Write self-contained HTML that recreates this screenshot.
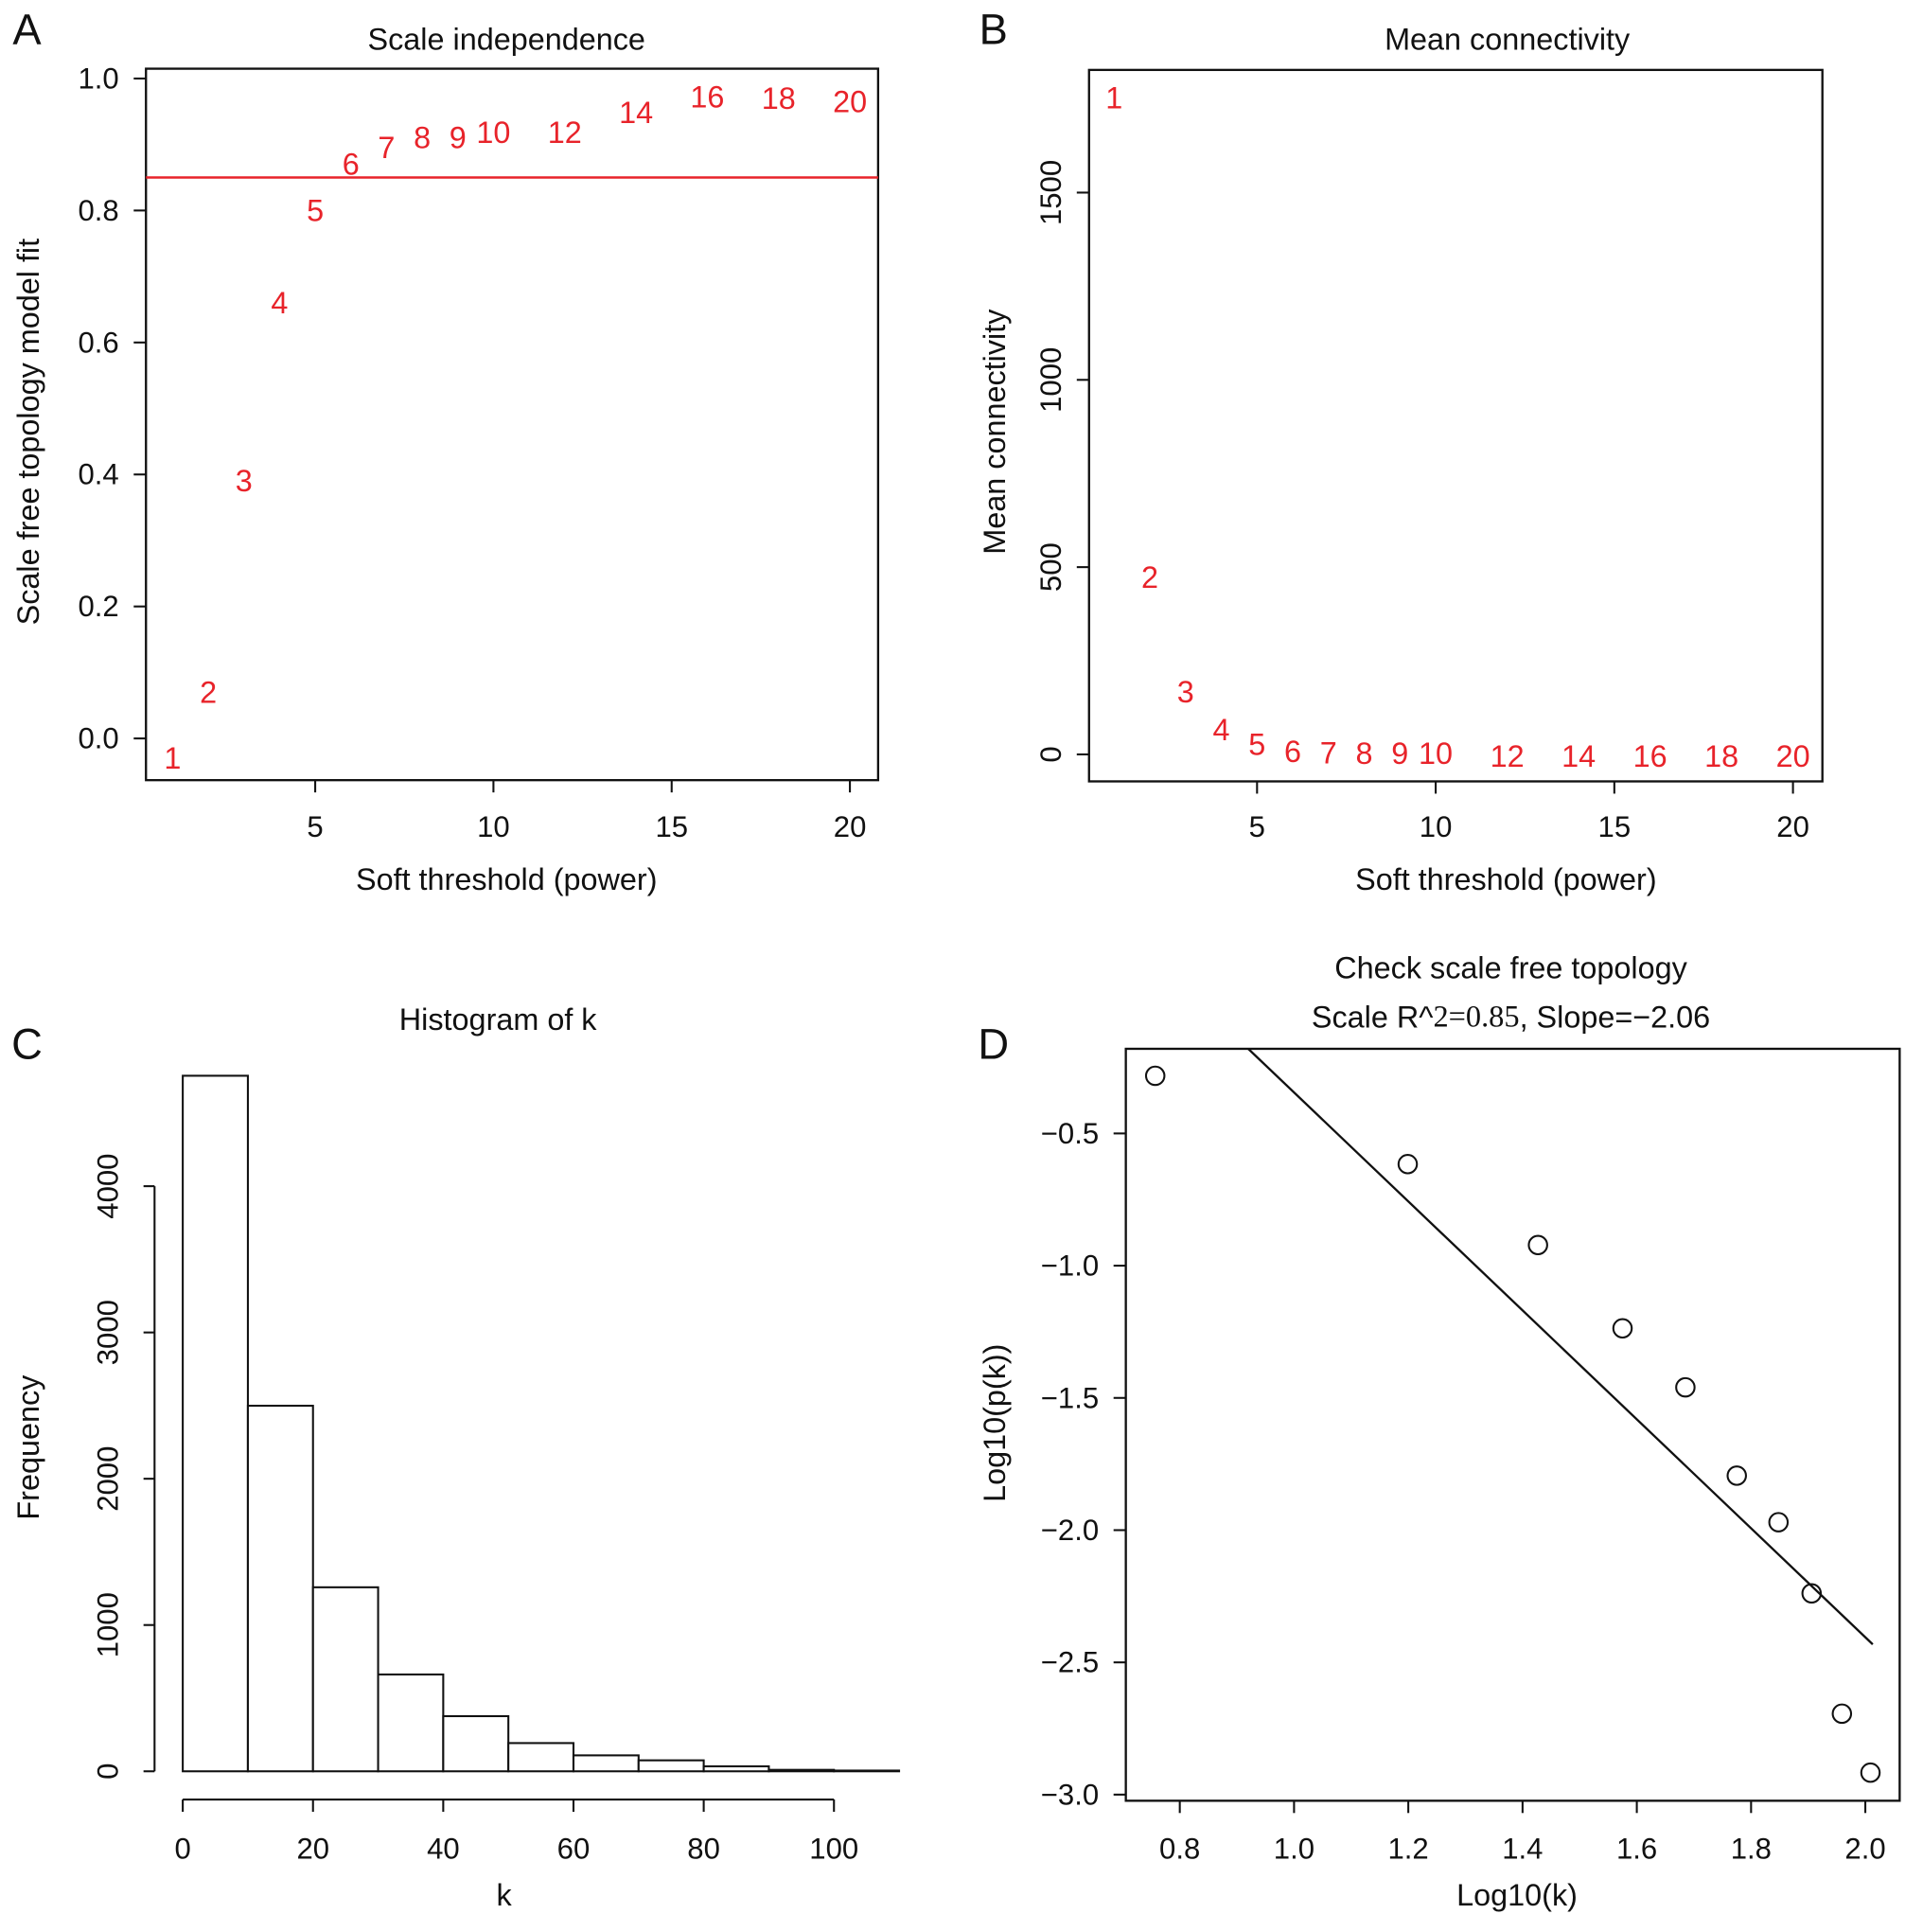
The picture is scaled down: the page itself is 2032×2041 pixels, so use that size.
<!DOCTYPE html>
<html><head><meta charset="utf-8"><style>
html,body{margin:0;padding:0;background:#fff}
svg{display:block}
text{font-family:"Liberation Sans",Arial,sans-serif;fill:#111}
</style></head><body>
<svg id="fig" width="2032" height="2041" viewBox="0 0 1568 1575" xmlns="http://www.w3.org/2000/svg"></svg>
<script>
// Panel A data
const powers = [1,2,3,4,5,6,7,8,9,10,12,14,16,18,20];
const fitValues = [-0.03,0.07,0.39,0.66,0.80,0.87,0.895,0.91,0.91,0.918,0.918,0.948,0.972,0.97,0.965];
const fitCutoff = 0.85;
const aYTicks = [0,0.2,0.4,0.6,0.8,1.0];
const aYTickLabels = ["0.0","0.2","0.4","0.6","0.8","1.0"];
const powerTicks = [5,10,15,20];
// Panel B data
const meanK = [1752,472,167,66,26,8,4,3,2,2,-5,-5,-5,-5,-5];
const bYTicks = [0,500,1000,1500];
// Panel C data
const histBreaks = [0,10,20,30,40,50,60,70,80,90,100,110];
const histCounts = [4755,2499,1258,662,377,193,109,75,34,10,5];
const cYTicks = [0,1000,2000,3000,4000];
const cXTicks = [0,20,40,60,80,100];
// Panel D data
const logK = [0.757,1.199,1.427,1.575,1.685,1.775,1.848,1.906,1.959,2.009];
const logPk = [-0.282,-0.616,-0.922,-1.237,-1.460,-1.794,-1.970,-2.239,-2.694,-2.917];
const fitIntercept = [1.715];
const fitSlope = [-2.06];
const dXTicks = [0.8,1.0,1.2,1.4,1.6,1.8,2.0];
const dYTicks = [-0.5,-1.0,-1.5,-2.0,-2.5,-3.0];

const svg = document.getElementById('fig');
const NS = 'http://www.w3.org/2000/svg';
const FS = 24;
function el(tag, attrs, parent){
  const e = document.createElementNS(NS, tag);
  for (const k in attrs) e.setAttribute(k, attrs[k]);
  (parent||svg).appendChild(e);
  return e;
}
function txt(s, x, y, opts, parent){
  const t = el('text', {x:x, y:y, 'font-size':opts.size||FS, 'text-anchor':opts.anchor||'middle', 'dominant-baseline':'central'}, parent);
  if (opts.rot) t.setAttribute('transform', 'rotate(-90 '+x+' '+y+')');
  if (opts.fill) t.setAttribute('style', 'fill:'+opts.fill);
  t.textContent = s;
  return t;
}
function line(x1,y1,x2,y2,stroke,w,parent){
  return el('line',{x1:x1,y1:y1,x2:x2,y2:y2,stroke:stroke||'#111','stroke-width':w||1.6},parent);
}
function lin(d0,d1,p0,p1){ return v => p0 + (v-d0)*(p1-p0)/(d1-d0); }

[['A',22,24],['B',810,24],['C',22,851],['D',810,851]].forEach(p=>{
  const t = txt(p[0], p[1], p[2], {size:35});
  
  
});

// ---------- Panel A ----------
(function(){
  const g = el('g', {});
  
  
  const xs = lin(5,20,257,693), ys = lin(0,1,602,64);
  const box = el('rect',{x:119,y:56,width:597,height:580,fill:'none',stroke:'#111','stroke-width':1.8},g);
  
  
  aYTicks.forEach((v,i)=>{ line(109, ys(v), 119, ys(v), '#111',1.6,g); txt(aYTickLabels[i], 97, ys(v), {anchor:'end'}, g); });
  powerTicks.forEach(v=>{ line(xs(v),636,xs(v),646,'#111',1.6,g); txt(String(v), xs(v), 674, {}, g); });
  const cut = line(119, ys(fitCutoff), 716, ys(fitCutoff), '#e8232a', 2, g);
  
  
  powers.forEach((p,i)=>{
    const t = txt(String(p), xs(p), ys(fitValues[i]), {fill:'#e8232a', size:25}, g);
    
    
  });
  txt('Scale independence', 413, 32, {size:25}, g);
  txt('Soft threshold (power)', 413, 717, {size:25}, g);
  txt('Scale free topology model fit', 23, 352, {size:25, rot:true}, g);
})();

// ---------- Panel B ----------
(function(){
  const g = el('g', {});
  
  
  const xs = lin(5,20,1025,1462), ys = lin(0,1500,615,157);
  const box = el('rect',{x:888,y:57,width:598,height:580,fill:'none',stroke:'#111','stroke-width':1.8},g);
  
  
  bYTicks.forEach(v=>{ line(878, ys(v), 888, ys(v), '#111',1.6,g); txt(String(v), 857, ys(v), {rot:true}, g); });
  powerTicks.forEach(v=>{ line(xs(v),637,xs(v),647,'#111',1.6,g); txt(String(v), xs(v), 674, {}, g); });
  powers.forEach((p,i)=>{
    const t = txt(String(p), xs(p), ys(meanK[i]), {fill:'#e8232a', size:25}, g);
    
    
  });
  txt('Mean connectivity', 1229, 32, {size:25}, g);
  txt('Soft threshold (power)', 1228, 717, {size:25}, g);
  txt('Mean connectivity', 811, 352, {size:25, rot:true}, g);
})();

// ---------- Panel C ----------
(function(){
  const g = el('g', {});
  
  
  const xs = lin(0,100,149,680), ys = lin(0,4000,1444,967);
  histCounts.forEach((c,i)=>{
    const x0 = xs(histBreaks[i]), x1 = xs(histBreaks[i+1]);
    const r = el('rect',{x:x0,y:ys(c),width:x1-x0,height:ys(0)-ys(c),fill:'#fff',stroke:'#111','stroke-width':1.6},g);
    
    
  });
  line(126, ys(0), 126, ys(4000), '#111', 1.6, g);
  cYTicks.forEach(v=>{ line(117, ys(v), 126, ys(v), '#111',1.6,g); txt(String(v), 88, ys(v), {rot:true}, g); });
  line(xs(0), 1467, xs(100), 1467, '#111', 1.6, g);
  cXTicks.forEach(v=>{ line(xs(v),1467,xs(v),1477,'#111',1.6,g); txt(String(v), xs(v), 1507, {}, g); });
  txt('Histogram of k', 406, 831, {size:25}, g);
  txt('k', 411, 1545, {size:25}, g);
  txt('Frequency', 23, 1180, {size:25, rot:true}, g);
})();

// ---------- Panel D ----------
(function(){
  const g = el('g', {});
  
  
  const xs = lin(0.8,2.0,962,1521), ys = lin(-0.5,-3.0,924,1463);
  const box = el('rect',{x:918,y:855,width:631,height:613,fill:'none',stroke:'#111','stroke-width':1.8},g);
  
  
  dYTicks.forEach(v=>{ line(908, ys(v), 918, ys(v), '#111',1.6,g); txt(v.toFixed(1).replace('-','\u2212'), 896, ys(v), {anchor:'end'}, g); });
  dXTicks.forEach(v=>{ line(xs(v),1468,xs(v),1478,'#111',1.6,g); txt(v.toFixed(1), xs(v), 1507, {}, g); });
  const a = fitIntercept[0], b = fitSlope[0];
  const yTopVal = -0.5 - (855-924)/215.6;
  const xStart = (yTopVal - a)/b;
  const xEnd = logK[logK.length-1] + 0.004;
  const fl = line(xs(xStart), ys(a+b*xStart), xs(xEnd), ys(a+b*xEnd), '#111', 1.8, g);
  
  
  logK.forEach((x,i)=>{
    const c = el('circle',{cx:xs(x),cy:ys(logPk[i]),r:7.5,fill:'none',stroke:'#111','stroke-width':1.6},g);
    
    
  });
  txt('Check scale free topology', 1232, 789, {size:25}, g);
  const sub = el('text',{x:1232,y:829,'font-size':25,'text-anchor':'middle','dominant-baseline':'central'},g);
  
  
  sub.innerHTML = 'Scale R^<tspan style="font-family:\'Liberation Serif\',serif">2=0.85</tspan>, Slope=\u22122.06';
  txt('Log10(k)', 1237, 1545, {size:25}, g);
  txt('Log10(p(k))', 811, 1160, {size:25, rot:true}, g);
})();
</script>
</body></html>
